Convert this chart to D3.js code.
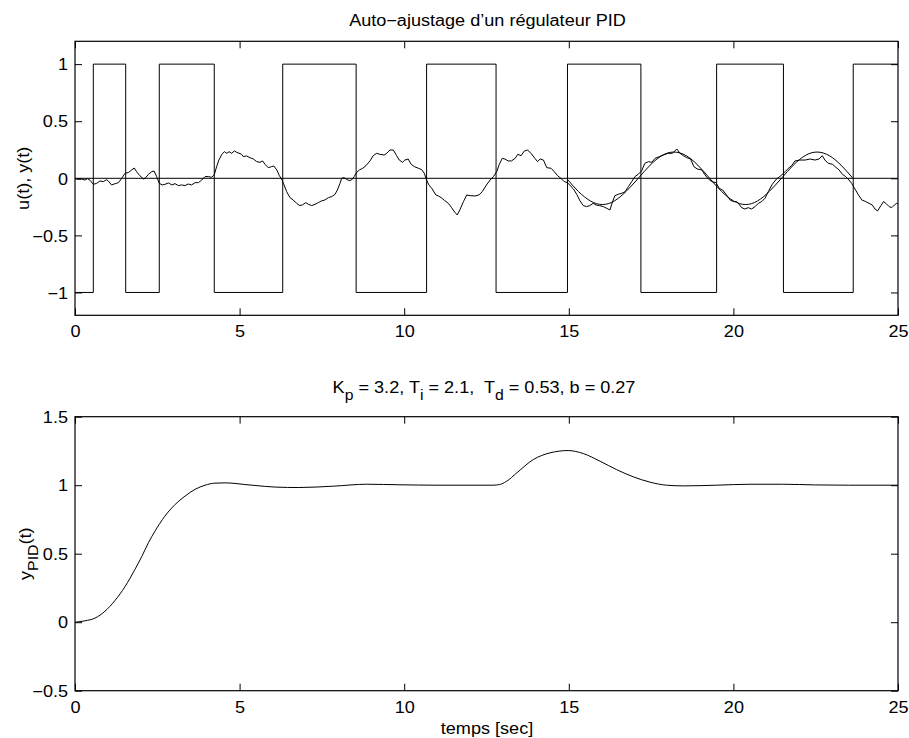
<!DOCTYPE html>
<html>
<head>
<meta charset="utf-8">
<script src="https://cdn.jsdelivr.net/npm/d3@7"></script>
<style>
  html, body { margin: 0; padding: 0; background: #fff; }
  svg { display: block; }
</style>
</head>
<body>
<script>
// ---------------- DATA ----------------
// Relay output u(t): switching instants and level held after each instant
const uTime  = [0, 0.556, 1.54, 2.56, 4.23, 6.31, 8.54, 10.68, 12.79, 14.96, 17.19, 19.49, 21.52, 23.64, 25];
const uLevel = [-1, 1, -1, 1, -1, 1, -1, 1, -1, 1, -1, 1, -1, 1, 1];

// Measured process output y(t) (noisy)
const yTime = [0,0.10,0.20,0.30,0.38,0.46,0.56,0.66,0.76,0.86,0.96,1.01,1.11,1.22,1.32,1.42,1.52,1.62,1.72,1.80,1.87,1.97,2.08,2.15,2.23,2.33,2.40,2.48,2.56,2.65,2.73,2.84,2.94,3.04,3.14,3.24,3.34,3.44,3.54,3.65,3.75,3.85,3.95,4.05,4.15,4.23,4.30,4.37,4.46,4.54,4.61,4.68,4.76,4.84,4.91,4.98,5.06,
5.11,5.21,5.32,5.42,5.52,5.62,5.70,5.77,5.87,5.97,6.04,6.13,6.21,6.29,6.35,6.43,6.53,6.63,6.73,6.83,6.91,7.01,7.09,7.19,7.29,7.39,7.49,7.59,7.70,7.80,7.90,7.97,8.05,8.10,8.17,8.25,8.33,8.40,8.48,8.56,8.64,8.74,8.84,8.96,9.06,9.16,9.26,9.39,9.47,9.57,9.67,9.77,9.85,9.95,10.02,
10.12,10.21,10.31,10.43,10.53,10.61,10.68,10.75,10.85,10.96,11.04,11.12,11.22,11.34,11.44,11.54,11.61,11.69,11.80,11.90,12.00,12.15,12.27,12.37,12.50,12.61,12.71,12.81,12.89,12.98,13.06,13.16,13.26,13.37,13.45,13.55,13.65,13.75,13.85,13.97,14.05,14.13,14.23,14.33,14.46,14.56,14.66,14.76,14.86,14.96,15.07,
15.14,15.24,15.34,15.44,15.54,15.64,15.74,15.83,15.93,16.05,16.15,16.25,16.33,16.40,16.50,16.61,16.71,16.81,16.91,17.01,17.11,17.21,17.31,17.42,17.52,17.62,17.75,17.87,18.02,18.15,18.28,18.38,18.48,18.58,18.70,18.80,18.90,19.04,19.14,19.24,19.34,19.47,19.57,19.67,19.79,19.90,20.00,20.10,
20.15,20.25,20.35,20.45,20.55,20.66,20.76,20.86,20.96,21.06,21.18,21.31,21.47,21.57,21.67,21.77,21.87,22.02,22.18,22.33,22.48,22.60,22.70,22.78,22.88,23.01,23.09,23.21,23.31,23.41,23.51,23.59,23.69,23.80,23.90,24.02,24.12,24.22,24.30,24.38,24.48,24.56,24.63,24.73,24.81,24.89,24.96,25.00];
const yValue = [0,-0.010,-0.006,-0.015,-0.003,-0.018,-0.053,-0.044,-0.023,-0.029,-0.012,-0.023,-0.058,-0.047,-0.038,0.000,0.044,0.050,0.073,0.090,0.058,0.023,-0.006,0.006,0.035,0.058,0.064,0.015,-0.044,-0.058,-0.053,-0.041,-0.058,-0.047,-0.064,-0.058,-0.064,-0.050,-0.058,-0.038,-0.038,-0.015,0.015,0.015,0.009,0.030,0.100,0.160,0.210,0.233,0.219,0.233,0.219,0.240,0.228,0.220,0.210,
0.190,0.196,0.180,0.169,0.146,0.140,0.152,0.123,0.093,0.102,0.108,0.073,0.023,-0.015,-0.058,-0.117,-0.169,-0.190,-0.219,-0.239,-0.233,-0.213,-0.228,-0.239,-0.228,-0.213,-0.198,-0.190,-0.169,-0.160,-0.140,-0.102,-0.044,0.000,0.006,-0.009,-0.020,-0.015,0.015,0.053,0.073,0.088,0.111,0.152,0.198,0.219,0.210,0.204,0.219,0.248,0.248,0.198,0.160,0.140,0.160,
0.169,0.123,0.102,0.088,0.076,0.044,-0.015,-0.058,-0.093,-0.146,-0.155,-0.169,-0.193,-0.219,-0.257,-0.298,-0.321,-0.277,-0.204,-0.146,-0.152,-0.155,-0.146,-0.117,-0.058,-0.015,0.015,0.058,0.123,0.175,0.169,0.152,0.152,0.175,0.210,0.198,0.239,0.248,0.219,0.175,0.146,0.169,0.160,0.093,0.088,0.058,0.023,0.000,-0.029,-0.038,-0.073,
-0.093,-0.140,-0.198,-0.239,-0.248,-0.239,-0.219,-0.234,-0.239,-0.248,-0.263,-0.277,-0.204,-0.152,-0.140,-0.131,-0.117,-0.073,-0.029,0.015,0.035,0.064,0.131,0.146,0.140,0.175,0.190,0.204,0.219,0.219,0.257,0.219,0.198,0.181,0.169,0.102,0.082,0.073,0.029,-0.006,-0.029,-0.038,-0.088,-0.102,-0.146,-0.190,-0.204,-0.204,
-0.219,-0.257,-0.269,-0.257,-0.269,-0.248,-0.219,-0.204,-0.175,-0.117,-0.053,-0.006,0.029,0.058,0.088,0.111,0.152,0.160,0.160,0.169,0.160,0.169,0.198,0.160,0.131,0.123,0.102,0.073,0.035,0.015,-0.015,-0.044,-0.093,-0.146,-0.190,-0.204,-0.219,-0.234,-0.269,-0.286,-0.239,-0.204,-0.219,-0.248,-0.257,-0.234,-0.219,-0.225];

// Fitted sinusoid
const fitTime  = [14.93,15.29,15.66,16.02,16.38,16.74,17.11,17.47,17.83,18.19,18.56,18.92,19.28,19.64,20.01,20.37,20.73,21.09,21.46,21.82,22.18,22.54,22.91,23.27,23.63];
const fitValue = [0,-0.115,-0.199,-0.23,-0.199,-0.115,0,0.115,0.199,0.23,0.199,0.115,0,-0.115,-0.199,-0.23,-0.199,-0.115,0,0.115,0.199,0.23,0.199,0.115,0];

// Closed-loop step response with tuned PID
const pidTime  = [0,0.30,0.61,0.91,1.22,1.52,1.82,2.03,2.23,2.43,2.73,3.04,3.34,3.65,3.95,4.25,4.56,4.86,5.16,5.47,6.10,6.80,7.85,8.86,9.87,11.0,12.0,12.70,12.90,13.10,13.42,13.92,14.43,14.98,15.44,15.95,16.45,16.96,17.47,17.97,18.48,19.49,20.50,21.50,22.50,23.50,25.0];
const pidValue = [0,0.01,0.03,0.08,0.16,0.26,0.385,0.48,0.58,0.665,0.774,0.859,0.92,0.97,1.0,1.015,1.017,1.013,1.005,0.998,0.986,0.983,0.993,1.007,1.003,1.0,1.0,1.0,1.005,1.027,1.09,1.187,1.236,1.253,1.231,1.175,1.114,1.061,1.022,1.0,0.995,1.0,1.007,1.007,1.002,1.0,1.0];

// Axes ticks / labels / texts
const xTicks = [0, 5, 10, 15, 20, 25];
const xTickLabels = ["0", "5", "10", "15", "20", "25"];
const yTopTicks = [-1, -0.5, 0, 0.5, 1];
const yTopLabels = ["\u22121", "\u22120.5", "0", "0.5", "1"];
const yBotTicks = [-0.5, 0, 0.5, 1, 1.5];
const yBotLabels = ["\u22120.5", "0", "0.5", "1", "1.5"];
const topTitle = "Auto\u2212ajustage d\u2019un r\u00e9gulateur PID";
const botTitleParts = [["K", 0], ["p", 1], [" = 3.2, T", 0], ["i", 1], [" = 2.1,  T", 0], ["d", 1], [" = 0.53, b = 0.27", 0]];
const topYLabel = "u(t), y(t)";
const botYLabelParts = [["y", 0], ["PID", 1], ["(t)", 0]];
const xLabel = "temps [sec]";

// ---------------- LAYOUT ----------------
const W = 909, H = 738;
const FONT = "'Liberation Sans', Arial, Helvetica, sans-serif";
const FS = 16, SUBFS = 14, SUBDY = 7, SX = 1.13, TICK = 7;

const svg = d3.select("body").append("svg").attr("width", W).attr("height", H)
  .style("font-family", FONT).style("font-size", FS + "px");
svg.append("rect").attr("width", W).attr("height", H).attr("fill", "#fff");

const x = d3.scaleLinear().domain([0, 25]).range([75, 898]);
const yTop = d3.scaleLinear().domain([-1.2, 1.2]).range([315.3, 41.3]);
const yBot = d3.scaleLinear().domain([-0.5, 1.5]).range([690.7, 416.7]);

function drawAxes(y, yTicks, yLabels) {
  const [y0, y1] = y.range(); // bottom, top
  const g = svg.append("g");
  const ab = g.append("g").attr("transform", `translate(0,${y0})`)
    .call(d3.axisBottom(x).tickValues(xTicks).tickFormat((d, i) => xTickLabels[i])
      .tickSizeInner(-TICK).tickSizeOuter(0).tickPadding(10.6));
  const at = g.append("g").attr("transform", `translate(0,${y1})`)
    .call(d3.axisTop(x).tickValues(xTicks).tickFormat("").tickSizeInner(-TICK).tickSizeOuter(0));
  const al = g.append("g").attr("transform", `translate(${x.range()[0]},0)`)
    .call(d3.axisLeft(y).tickValues(yTicks).tickFormat((d, i) => yLabels[i])
      .tickSizeInner(-TICK).tickSizeOuter(0).tickPadding(7));
  const ar = g.append("g").attr("transform", `translate(${x.range()[1]},0)`)
    .call(d3.axisRight(y).tickValues(yTicks).tickFormat("").tickSizeInner(-TICK).tickSizeOuter(0));
  [ab, at, al, ar].forEach(a => {
    a.select(".domain").remove();
    a.selectAll("line").attr("stroke", "#000").attr("stroke-width", 1);
    a.selectAll("text").attr("fill", "#000").style("font-family", FONT).attr("font-size", FS);
  });
  ab.selectAll("text").attr("transform", `scale(${SX},1)`);
  al.selectAll("text").attr("x", -7 / SX).attr("dy", "0.36em").attr("transform", `scale(${SX},1)`);
  g.append("rect").attr("x", x.range()[0]).attr("y", y1)
    .attr("width", x.range()[1] - x.range()[0]).attr("height", y0 - y1)
    .attr("fill", "none").attr("stroke", "#000").attr("stroke-width", 1.2);
}

function line(y, curve) {
  return d3.line().x(d => x(d[0])).y(d => y(d[1])).curve(curve || d3.curveLinear);
}

function richText(parent, tx, ty, parts, rotate) {
  const g = parent.append("g").attr("transform",
    `translate(${tx},${ty})` + (rotate ? ` rotate(${rotate})` : "") + ` scale(${SX},1)`);
  const t = g.append("text").attr("text-anchor", "middle").attr("fill", "#000")
    .attr("font-size", FS).style("white-space", "pre");
  let cur = 0;
  parts.forEach(([s, sub]) => {
    const target = sub ? SUBDY : 0;
    t.append("tspan").attr("dy", target - cur).attr("font-size", sub ? SUBFS : FS).text(s);
    cur = target;
  });
  return t;
}

// ---------------- TOP PLOT ----------------
const clipTop = svg.append("defs").append("clipPath").attr("id", "clipTop");
clipTop.append("rect").attr("x", 75).attr("y", 41.3).attr("width", 823).attr("height", 274);

const gTop = svg.append("g").attr("clip-path", "url(#clipTop)");
const uData = uTime.map((t, i) => [t, uLevel[i]]);
gTop.append("path").datum(uData).attr("d", line(yTop, d3.curveStepAfter))
  .attr("fill", "none").attr("stroke", "#000").attr("stroke-width", 1);
gTop.append("path").datum([[0, 0], [25, 0]]).attr("d", line(yTop))
  .attr("fill", "none").attr("stroke", "#000").attr("stroke-width", 1);
gTop.append("path").datum(yTime.map((t, i) => [t, yValue[i]])).attr("d", line(yTop))
  .attr("fill", "none").attr("stroke", "#000").attr("stroke-width", 1).attr("stroke-linejoin", "round");
gTop.append("path").datum(fitTime.map((t, i) => [t, fitValue[i]])).attr("d", line(yTop, d3.curveNatural))
  .attr("fill", "none").attr("stroke", "#000").attr("stroke-width", 1);
drawAxes(yTop, yTopTicks, yTopLabels);

richText(svg, 487.5, 26, [[topTitle, 0]]);
richText(svg, 28.5, 178.3, [[topYLabel, 0]], -90);

// ---------------- BOTTOM PLOT ----------------
const gBot = svg.append("g");
gBot.append("path").datum(pidTime.map((t, i) => [t, pidValue[i]])).attr("d", line(yBot, d3.curveMonotoneX))
  .attr("fill", "none").attr("stroke", "#000").attr("stroke-width", 1);
drawAxes(yBot, yBotTicks, yBotLabels);

richText(svg, 484, 393.3, botTitleParts);
richText(svg, 30.5, 553.7, botYLabelParts, -90);
richText(svg, 487, 734, [[xLabel, 0]]);
</script>
</body>
</html>
